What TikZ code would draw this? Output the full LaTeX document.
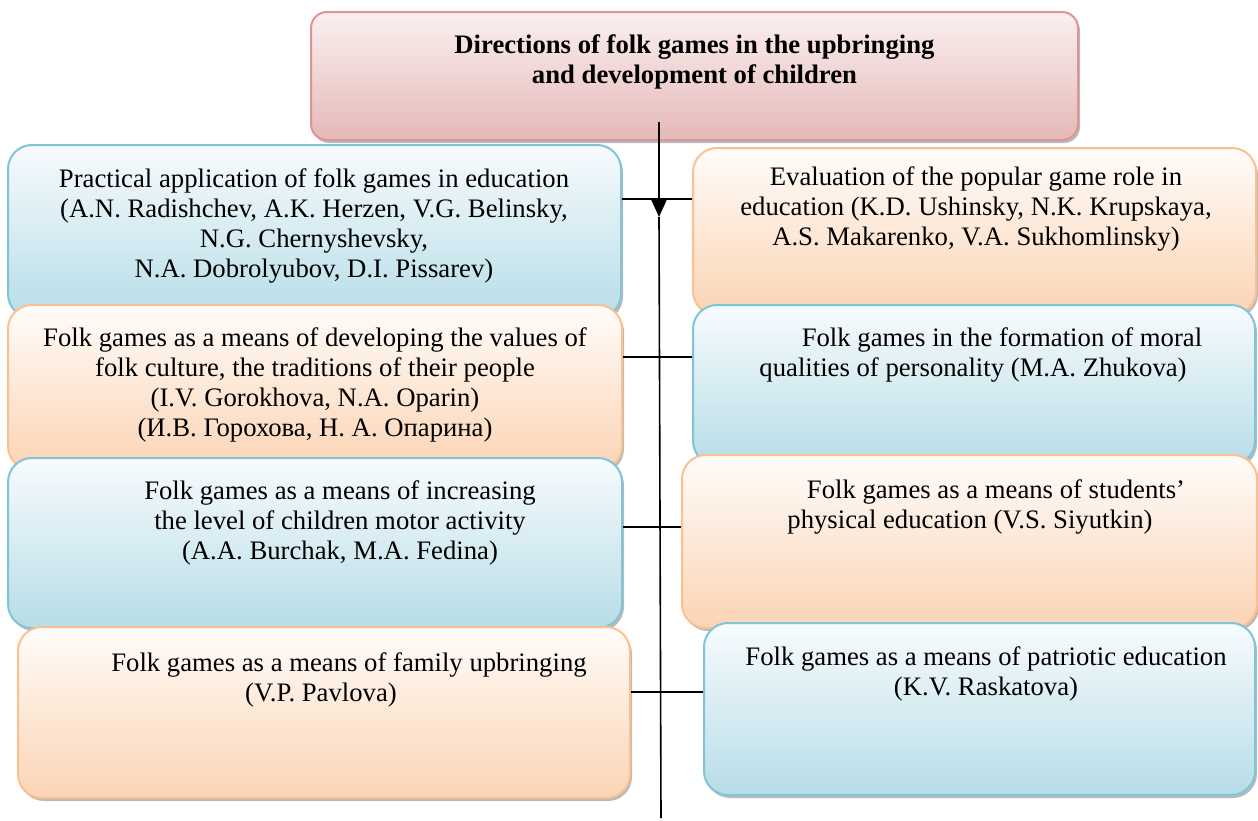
\documentclass[tikz,border=0pt]{standalone}
\usepackage{fontspec}
\setmainfont{Liberation Serif}
\usetikzlibrary{arrows.meta,shadows}

\definecolor{pinkline}{RGB}{217,150,148}
\definecolor{pinktop}{RGB}{251,240,240}
\definecolor{pinkbot}{RGB}{229,184,183}
\definecolor{blueline}{RGB}{128,196,216}
\definecolor{bluetop}{RGB}{247,251,253}
\definecolor{bluebot}{RGB}{183,221,232}
\definecolor{orangeline}{RGB}{250,192,144}
\definecolor{orangetop}{RGB}{255,252,250}
\definecolor{orangebot}{RGB}{251,212,180}

\begin{document}
\begin{tikzpicture}
  [x=0.5pt,y=-0.5pt,
   every node/.style={font=\fontsize{13.35}{15}\selectfont},
   box/.style={rectangle,rounded corners=12pt,line width=1pt,
     drop shadow={shadow xshift=1pt,shadow yshift=-1.5pt,fill=black!45,opacity=.6}},
   headbox/.style={box,rounded corners=8pt,draw=pinkline,top color=pinktop,bottom color=pinkbot},
   bluebox/.style={box,draw=blueline,top color=bluetop,bottom color=bluebot},
   orangebox/.style={box,draw=orangeline,top color=orangetop,bottom color=orangebot},
   txt/.style={align=center,inner sep=0pt},
   headtxt/.style={txt,font=\fontsize{13.35}{15}\selectfont\bfseries},
   link/.style={line width=0.8pt}]
  \useasboundingbox (0,0) rectangle (1258,820);

  % heading
  \node[headbox,minimum width=383.5pt,minimum height=64pt] (top) at (694.5,76) {};
  \node[headtxt] (ttop) at (694.5,62)
    {Directions of folk games in the upbringing\\and development of children};

  % first row
  \node[bluebox,minimum width=306.5pt,minimum height=86.5pt] (l1) at (314.5,231.5) {};
  \node[txt] (tl1) at (314,226)
    {Practical application of folk games in education\\(A.N. Radishchev, A.K. Herzen, V.G. Belinsky,\\N.G. Chernyshevsky,\\N.A. Dobrolyubov, D.I. Pissarev)};
  \node[orangebox,minimum width=281.5pt,minimum height=83.5pt] (r1) at (974.5,231.5) {};
  \node[txt] (tr1) at (976,209)
    {Evaluation of the popular game role in\\education (K.D. Ushinsky, N.K. Krupskaya,\\A.S. Makarenko, V.A. Sukhomlinsky)};

  % second row
  \node[orangebox,minimum width=307pt,minimum height=82.5pt] (l2) at (315,387.5) {};
  \node[txt] (tl2) at (315,385)
    {Folk games as a means of developing the values of\\folk culture, the traditions of their people\\(I.V. Gorokhova, N.A. Oparin)\\(И.В. Горохова, Н. А. Опарина)};
  \node[bluebox,minimum width=281pt,minimum height=80pt] (r2) at (974,385) {};
  \node[txt] (tr2) at (973,355)
    {\hspace*{29pt}Folk games in the formation of moral\\qualities of personality (M.A. Zhukova)};

  % third row
  \node[bluebox,minimum width=307pt,minimum height=85pt] (l3) at (315,543) {};
  \node[txt] (tl3) at (340,523)
    {Folk games as a means of increasing\\the level of children motor activity\\(A.A. Burchak, M.A. Fedina)};
  \node[orangebox,minimum width=287.5pt,minimum height=86.5pt] (r3) at (969.5,541.5) {};
  \node[txt] (tr3) at (970,507)
    {\hspace*{26pt}Folk games as a means of students’\\physical education (V.S. Siyutkin)};

  % fourth row
  \node[orangebox,minimum width=306pt,minimum height=85.5pt] (l4) at (324,712.5) {};
  \node[txt] (tl4) at (321,680)
    {\hspace*{28pt}Folk games as a means of family upbringing\\(V.P. Pavlova)};
  \node[bluebox,minimum width=275.5pt,minimum height=86pt] (r4) at (979.5,709) {};
  \node[txt] (tr4) at (986,674)
    {Folk games as a means of patriotic education\\(K.V. Raskatova)};

  % trunk
  \coordinate (stem) at (659,122);
  \coordinate (tip) at (659,217);
  \coordinate (foot) at (661,818);
  \draw[link,-{Triangle[length=8.5pt,width=7.5pt]}] (stem) -- (tip);
  \draw[link] (tip) -- (foot);

  \foreach \from/\to/\y in {l1/r1/199,l2/r2/357,l3/r3/527,l4/r4/692}
    \draw[link] (\from.east |- 0,\y) -- (\to.west |- 0,\y);
\end{tikzpicture}
\end{document}
